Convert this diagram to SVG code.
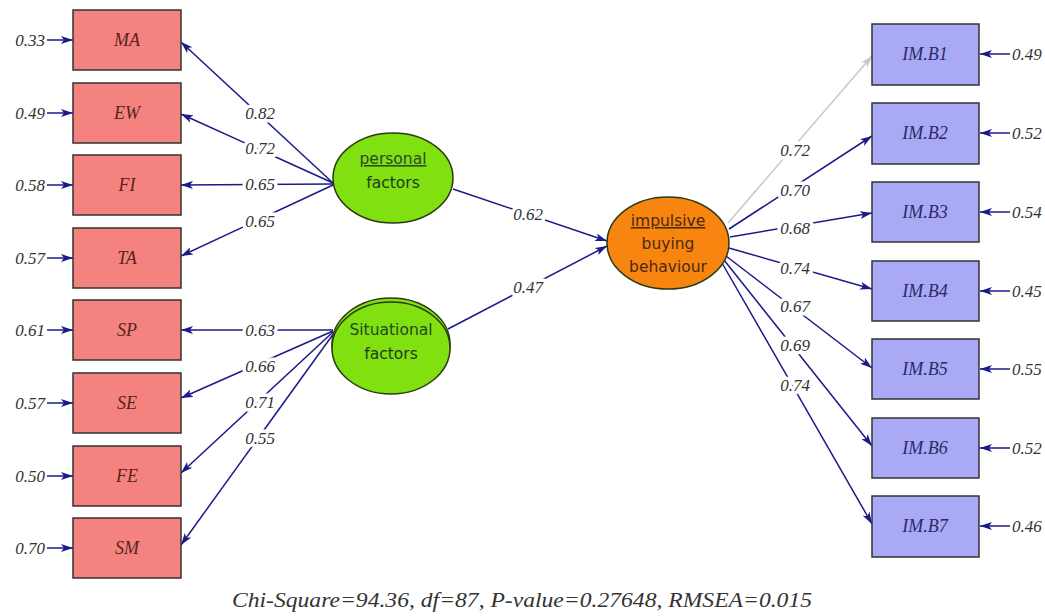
<svg xmlns="http://www.w3.org/2000/svg" width="1045" height="616" viewBox="0 0 1045 616">
<defs>
<marker id="ah" viewBox="0 0 12 8" refX="12" refY="4" markerWidth="12" markerHeight="8" markerUnits="userSpaceOnUse" orient="auto">
<path d="M0,0 L12,4 L0,8 L3,4 Z" fill="#1a1a8a"/>
</marker>
<marker id="ahg" viewBox="0 0 12 8" refX="12" refY="4" markerWidth="12" markerHeight="8" markerUnits="userSpaceOnUse" orient="auto">
<path d="M0,0 L12,4 L0,8 L3,4 Z" fill="#c8c8c8"/>
</marker>
<style>
.ln{stroke:#1a1a8a;stroke-width:1.5;fill:none;marker-end:url(#ah)}
.lg{stroke:#c8c8c8;stroke-width:1.5;fill:none;marker-end:url(#ahg)}
.lbl{font-family:"Liberation Serif",serif;font-style:italic;font-size:17px;fill:#333;stroke:#fff;stroke-width:7;stroke-linejoin:round;paint-order:stroke;text-anchor:middle}
.err{font-family:"Liberation Serif",serif;font-style:italic;font-size:17px;fill:#333}
.boxL{fill:#f4837f;stroke:#333;stroke-width:1.5}
.boxR{fill:#a9a9f5;stroke:#333;stroke-width:1.5}
.bt{font-family:"Liberation Serif",serif;font-style:italic;font-size:18px;text-anchor:middle}
.btL{fill:#5a1f1f}
.btR{fill:#2a2a6a}
.lat{stroke:#2a3a10;stroke-width:1.5}
.et{font-family:"DejaVu Sans",sans-serif;font-size:15.5px;text-anchor:middle}
</style>
</defs>
<rect width="1045" height="616" fill="#fff"/>

<g id="connectors">
<line class="ln" x1="47" y1="40" x2="73" y2="40"/>
<line class="ln" x1="47" y1="113" x2="73" y2="113"/>
<line class="ln" x1="47" y1="185" x2="73" y2="185"/>
<line class="ln" x1="47" y1="258" x2="73" y2="258"/>
<line class="ln" x1="47" y1="330" x2="73" y2="330"/>
<line class="ln" x1="47" y1="403" x2="73" y2="403"/>
<line class="ln" x1="47" y1="476" x2="73" y2="476"/>
<line class="ln" x1="47" y1="548" x2="73" y2="548"/>
<line class="ln" x1="1010" y1="54" x2="980" y2="54"/>
<line class="ln" x1="1010" y1="133" x2="980" y2="133"/>
<line class="ln" x1="1010" y1="212" x2="980" y2="212"/>
<line class="ln" x1="1010" y1="291" x2="980" y2="291"/>
<line class="ln" x1="1010" y1="369" x2="980" y2="369"/>
<line class="ln" x1="1010" y1="448" x2="980" y2="448"/>
<line class="ln" x1="1010" y1="526" x2="980" y2="526"/>
<line class="ln" x1="333" y1="183" x2="181" y2="42"/>
<line class="ln" x1="333" y1="183" x2="181" y2="114"/>
<line class="ln" x1="333" y1="184" x2="181" y2="185"/>
<line class="ln" x1="333" y1="185" x2="181" y2="256"/>
<line class="ln" x1="333" y1="330" x2="181" y2="330"/>
<line class="ln" x1="333" y1="331" x2="181" y2="398"/>
<line class="ln" x1="333" y1="332" x2="181" y2="473"/>
<line class="ln" x1="334" y1="333" x2="181" y2="545"/>
<line class="ln" x1="453" y1="189" x2="607" y2="241"/>
<line class="ln" x1="448" y1="329" x2="607" y2="246"/>
<line class="lg" x1="728" y1="223" x2="872" y2="56"/>
<line class="ln" x1="729" y1="229" x2="872" y2="136"/>
<line class="ln" x1="730" y1="237" x2="872" y2="213"/>
<line class="ln" x1="729" y1="248" x2="872" y2="289"/>
<line class="ln" x1="726" y1="256" x2="872" y2="368"/>
<line class="ln" x1="724" y1="260" x2="872" y2="446"/>
<line class="ln" x1="722" y1="263" x2="872" y2="524"/>
<text class="lbl" x="260" y="119">0.82</text>
<text class="lbl" x="260" y="154">0.72</text>
<text class="lbl" x="260" y="190">0.65</text>
<text class="lbl" x="260" y="227">0.65</text>
<text class="lbl" x="260" y="336">0.63</text>
<text class="lbl" x="260" y="372">0.66</text>
<text class="lbl" x="260" y="408">0.71</text>
<text class="lbl" x="260" y="444">0.55</text>
<text class="lbl" x="528" y="220">0.62</text>
<text class="lbl" x="528" y="293">0.47</text>
<text class="lbl" x="795" y="156">0.72</text>
<text class="lbl" x="795" y="196">0.70</text>
<text class="lbl" x="795" y="234">0.68</text>
<text class="lbl" x="795" y="274">0.74</text>
<text class="lbl" x="795" y="312">0.67</text>
<text class="lbl" x="795" y="351">0.69</text>
<text class="lbl" x="795" y="391">0.74</text>
</g>

<g id="errors-left">
<text class="err" x="45" y="46" text-anchor="end">0.33</text>
<text class="err" x="45" y="119" text-anchor="end">0.49</text>
<text class="err" x="45" y="191" text-anchor="end">0.58</text>
<text class="err" x="45" y="264" text-anchor="end">0.57</text>
<text class="err" x="45" y="336" text-anchor="end">0.61</text>
<text class="err" x="45" y="409" text-anchor="end">0.57</text>
<text class="err" x="45" y="482" text-anchor="end">0.50</text>
<text class="err" x="45" y="554" text-anchor="end">0.70</text>
</g>
<g id="errors-right">
<text class="err" x="1012" y="60">0.49</text>
<text class="err" x="1012" y="139">0.52</text>
<text class="err" x="1012" y="218">0.54</text>
<text class="err" x="1012" y="297">0.45</text>
<text class="err" x="1012" y="375">0.55</text>
<text class="err" x="1012" y="454">0.52</text>
<text class="err" x="1012" y="532">0.46</text>
</g>

<g id="MA"><rect class="boxL" x="73" y="10" width="108" height="60"/><text class="bt btL" x="127" y="46">MA</text></g>
<g id="EW"><rect class="boxL" x="73" y="83" width="108" height="60"/><text class="bt btL" x="127" y="119">EW</text></g>
<g id="FI"><rect class="boxL" x="73" y="155" width="108" height="60"/><text class="bt btL" x="127" y="191">FI</text></g>
<g id="TA"><rect class="boxL" x="73" y="228" width="108" height="60"/><text class="bt btL" x="127" y="264">TA</text></g>
<g id="SP"><rect class="boxL" x="73" y="300" width="108" height="60"/><text class="bt btL" x="127" y="336">SP</text></g>
<g id="SE"><rect class="boxL" x="73" y="373" width="108" height="60"/><text class="bt btL" x="127" y="409">SE</text></g>
<g id="FE"><rect class="boxL" x="73" y="446" width="108" height="60"/><text class="bt btL" x="127" y="482">FE</text></g>
<g id="SM"><rect class="boxL" x="73" y="518" width="108" height="60"/><text class="bt btL" x="127" y="554">SM</text></g>

<g id="IMB1"><rect class="boxR" x="872" y="24" width="107" height="61"/><text class="bt btR" x="925" y="60">IM.B1</text></g>
<g id="IMB2"><rect class="boxR" x="872" y="103" width="107" height="61"/><text class="bt btR" x="925" y="139">IM.B2</text></g>
<g id="IMB3"><rect class="boxR" x="872" y="182" width="107" height="60"/><text class="bt btR" x="925" y="218">IM.B3</text></g>
<g id="IMB4"><rect class="boxR" x="872" y="261" width="107" height="60"/><text class="bt btR" x="925" y="297">IM.B4</text></g>
<g id="IMB5"><rect class="boxR" x="872" y="339" width="107" height="60"/><text class="bt btR" x="925" y="375">IM.B5</text></g>
<g id="IMB6"><rect class="boxR" x="872" y="418" width="107" height="60"/><text class="bt btR" x="925" y="454">IM.B6</text></g>
<g id="IMB7"><rect class="boxR" x="872" y="496" width="107" height="61"/><text class="bt btR" x="925" y="532">IM.B7</text></g>

<g id="personal-factors">
<ellipse class="lat" cx="393" cy="178" rx="60" ry="45" fill="#80e010"/>
<text class="et" x="393" y="164" fill="#2a4a2a" text-decoration="underline">personal</text>
<text class="et" x="393" y="188" fill="#1f3a1f">factors</text>
</g>
<g id="situational-factors">
<ellipse class="lat" cx="391" cy="344" rx="59" ry="46" fill="#80e010"/>
<ellipse class="lat" cx="391" cy="348" rx="59" ry="46" fill="#80e010"/>
<text class="et" x="391" y="335" fill="#1f4a1f">Situational</text>
<text class="et" x="391" y="359" fill="#1f3a1f">factors</text>
</g>
<g id="impulsive-buying-behaviour">
<ellipse class="lat" cx="668" cy="243" rx="61" ry="46" fill="#f7850f" stroke="#4a2a00"/>
<text class="et" x="668" y="226" fill="#4a2a10" text-decoration="underline">impulsive</text>
<text class="et" x="668" y="249" fill="#4a2a10">buying</text>
<text class="et" x="668" y="272" fill="#4a2a10">behaviour</text>
</g>

<text x="522" y="607" font-family="Liberation Serif,serif" font-style="italic" font-size="20" fill="#333" text-anchor="middle" textLength="580" lengthAdjust="spacingAndGlyphs">Chi-Square=94.36, df=87, P-value=0.27648, RMSEA=0.015</text>
</svg>
